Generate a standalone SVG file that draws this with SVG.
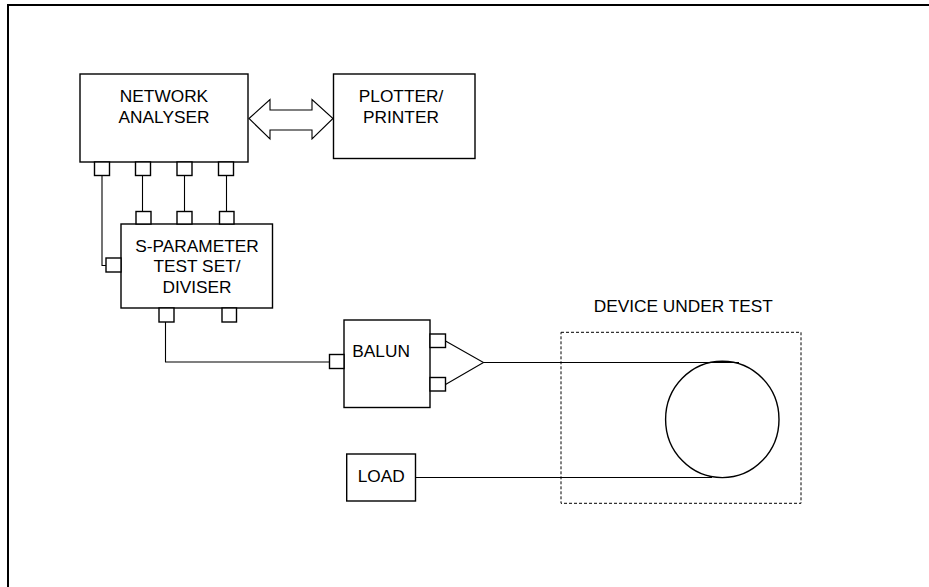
<svg xmlns="http://www.w3.org/2000/svg" width="929" height="587" viewBox="0 0 929 587">
<style>
.box{fill:#fff;stroke:#000;stroke-width:1.4}
.port{fill:#fff;stroke:#000;stroke-width:1.4}
.wire{fill:none;stroke:#000;stroke-width:1.1}
.t{font-family:"Liberation Sans",Arial,sans-serif;font-size:17.3px;fill:#000}
.c{text-anchor:middle}
</style>
<rect x="0" y="0" width="929" height="587" fill="#fff"/>
<rect id="frame" x="8" y="5" width="940" height="600" fill="none" stroke="#000" stroke-width="2"/>
<g id="connectors">
<path class="wire" d="M102,176 V265.5 H106"/>
<path class="wire" d="M142.5,176 V212"/>
<path class="wire" d="M184.5,176 V212"/>
<path class="wire" d="M226.5,176 V212"/>
<path class="wire" d="M165.5,322 V362 H329.5"/>
<path class="wire" d="M445.5,341 L483.5,362.5 L445.5,384.5"/>
<path class="wire" d="M483.5,362.5 H739"/>
<path class="wire" d="M415.5,477.5 H712"/>
<polygon id="bus" points="249,118.5 270,99.5 270,110 312,110 312,99.5 333,118.5 312,139 312,130 270,130 270,139" fill="#fff" stroke="#000" stroke-width="1.1"/>
</g>
<g id="network-analyser">
<rect class="box" x="80" y="74" width="168" height="88"/>
<text class="t c" x="164" y="102.3">NETWORK</text>
<text class="t c" x="164" y="123.3">ANALYSER</text>
<rect class="port" x="94.5" y="162" width="15" height="13.5"/>
<rect class="port" x="135.5" y="162" width="15" height="13.5"/>
<rect class="port" x="177" y="162" width="15" height="13.5"/>
<rect class="port" x="218.5" y="162" width="15" height="13.5"/>
</g>
<g id="plotter-printer">
<rect class="box" x="333.5" y="74" width="141.5" height="84.5"/>
<text class="t c" x="401" y="101.7">PLOTTER/</text>
<text class="t c" x="401" y="122.7">PRINTER</text>
</g>
<g id="s-parameter-test-set">
<rect class="box" x="121" y="224" width="151.5" height="84"/>
<text class="t c" x="197" y="251.7">S-PARAMETER</text>
<text class="t c" x="197" y="272.2">TEST SET/</text>
<text class="t c" x="197" y="292.7">DIVISER</text>
<rect class="port" x="136" y="211.5" width="15" height="12.5"/>
<rect class="port" x="177" y="211.5" width="15" height="12.5"/>
<rect class="port" x="219.5" y="211.5" width="14.5" height="12.5"/>
<rect class="port" x="106" y="258" width="15" height="14"/>
<rect class="port" x="159" y="308" width="15" height="14"/>
<rect class="port" x="222" y="308" width="14.5" height="14"/>
</g>
<g id="balun">
<rect class="box" x="344" y="320" width="86" height="87.5"/>
<text class="t" x="352.3" y="356.7">BALUN</text>
<rect class="port" x="329.5" y="354.5" width="14.5" height="14"/>
<rect class="port" x="430" y="334" width="15.5" height="13.5"/>
<rect class="port" x="430" y="377.5" width="15.5" height="13.5"/>
</g>
<g id="load">
<rect class="box" x="346.7" y="454" width="68.8" height="47"/>
<text class="t" x="357.7" y="481.7">LOAD</text>
</g>
<g id="device-under-test">
<text class="t c" x="683.3" y="312.3">DEVICE UNDER TEST</text>
<rect x="561" y="332.3" width="240" height="171" fill="none" stroke="#000" stroke-width="1" stroke-dasharray="3,2"/>
<ellipse cx="722.3" cy="419.4" rx="56.7" ry="58.2" fill="none" stroke="#000" stroke-width="1.4"/>
</g>
</svg>
